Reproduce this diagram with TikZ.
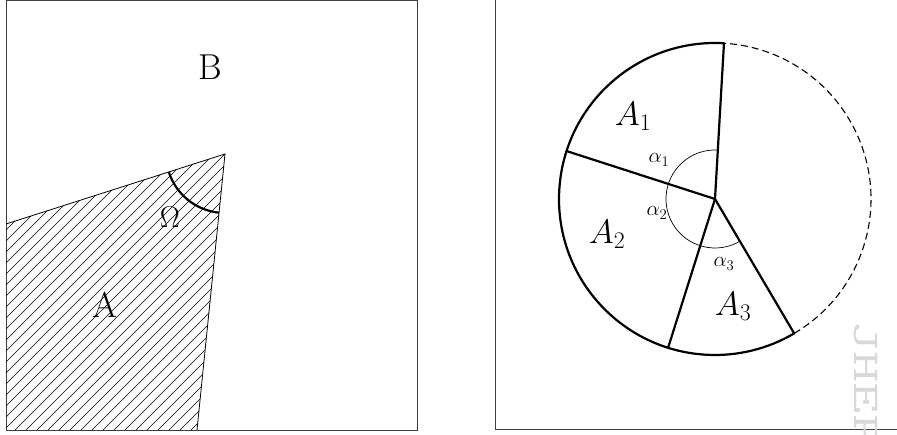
\RequirePackage{fix-cm}
\documentclass[tikz,border=0pt]{standalone}
\usepackage{graphicx}
\usetikzlibrary{calc}
\begin{document}
\begin{tikzpicture}[x=1pt,y=1pt,
  frame/.style={draw=black!75,line width=0.9pt},
  edge/.style={line width=0.8pt},
  hatch/.style={line width=0.55pt},
  thick arc/.style={line width=2.2pt},
  spoke/.style={line width=2.2pt},
  big/.style={font=\fontsize{34}{38}\selectfont,inner sep=0pt},
  bigrm/.style={font=\fontsize{36}{40}\selectfont,inner sep=0pt},
  small/.style={font=\fontsize{21}{23}\selectfont,inner sep=0pt},
  wm/.style={text=black!15,inner sep=0pt,font=\ttfamily\fontsize{38}{38}\selectfont}]
\useasboundingbox (0,0) rectangle (897,434);
\clip (0,0) rectangle (897,434);

% ---------- left panel ----------
\draw[frame] (6,4) rectangle (417,434);
\coordinate (P1) at (6,210);
\coordinate (P2) at (225,280);
\coordinate (P3) at (197,4);
\coordinate (P4) at (6,4);
\begin{scope}
  \clip (P1) -- (P2) -- (P3) -- (P4) -- cycle;
  \foreach \i in {-440,-429,...,240}
    \draw[hatch] (\i,0) -- ++(300,300);
\end{scope}
\draw[edge] (P1) -- (P2) -- (P3);
\draw[thick arc] ($(P2)+(197.7:59)$) arc[start angle=197.7,end angle=264.2,radius=59];
\node[inner sep=0pt,font=\fontsize{30}{34}\selectfont] (om) at (170,217) {$\Omega$};
\node[bigrm] (A) at (105,129) {A};
\node[bigrm] (B) at (210,367) {B};

% ---------- right panel ----------
\draw[frame] (495,5) -- (920,5);
\draw[frame] (495,5) -- (495,440);
\coordinate (O) at (715,235);
\coordinate (E1) at ($(O)+(86.7:156)$);
\coordinate (E2) at ($(O)+(162.1:156)$);
\coordinate (E3) at ($(O)+(252.5:156)$);
\coordinate (E4) at ($(O)+(300.5:156)$);
\draw[thick arc] (E1) arc[start angle=86.7,end angle=300.5,radius=156];
\draw[line width=1.1pt,dash pattern=on 7pt off 4pt] (E4) arc[start angle=300.5,end angle=446.7,radius=156];
\draw[spoke,line cap=round] (O) -- (E1);
\draw[spoke,line cap=round] (O) -- (E2);
\draw[spoke,line cap=round] (O) -- (E3);
\draw[spoke,line cap=round] (O) -- (E4);
\draw[line width=0.7pt] ($(O)+(86.7:49)$) arc[start angle=86.7,end angle=300.5,radius=49];
\node[big] (A1) at (633,318) {$A_1$};
\node[big] (A2) at (607,200) {$A_2$};
\node[big] (A3) at (733,128) {$A_3$};
\node[small] (a1) at (659,274) {$\alpha_1$};
\node[small] (a2) at (657,221) {$\alpha_2$};
\node[small] (a3) at (724,170) {$\alpha_3$};

% ---------- watermark ----------
\node[wm,rotate=-90,anchor=west] (wmk) at (866,114) {\scalebox{1.6}[1]{JHEP}};
\end{tikzpicture}
\end{document}
